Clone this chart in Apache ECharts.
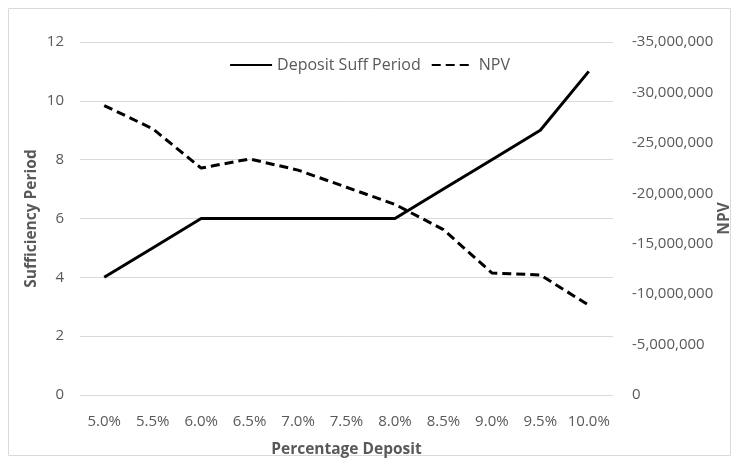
<!DOCTYPE html>
<html>
<head>
<meta charset="utf-8">
<script src="https://cdn.jsdelivr.net/npm/echarts@6/dist/echarts.min.js"></script>
<style>html,body{margin:0;padding:0;background:#fff}#c{width:739px;height:464px}</style>
</head>
<body>
<div id="c"></div>
<script>
const categories = ['5.0%','5.5%','6.0%','6.5%','7.0%','7.5%','8.0%','8.5%','9.0%','9.5%','10.0%'];
const sufficiency = [4,5,6,6,6,6,6,7,8,9,11];
const npv = [-28700000,-26400000,-22500000,-23400000,-22300000,-20600000,-18900000,-16400000,-12100000,-11900000,-8900000];
const FONT = '"Open Sans", "Liberation Sans", sans-serif';
const chart = echarts.init(document.getElementById('c'), null, {renderer:'canvas'});
chart.setOption({
  animation:false,
  backgroundColor:'#fff',
  textStyle:{fontFamily:FONT},
  graphic:[{type:'rect',shape:{x:8.5,y:8.5,width:722,height:447},style:{fill:'none',stroke:'#d9d9d9',lineWidth:1},silent:true}],
  legend:{
    top:52, left:'center', itemWidth:42, itemHeight:14, itemGap:10,
    itemStyle:{opacity:0},
    textStyle:{color:'#595959',fontSize:16,fontFamily:FONT},
    data:['Deposit Suff Period','NPV']
  },
  grid:{left:80,right:126,top:42,bottom:69,containLabel:false,outerBoundsMode:'none'},
  xAxis:{
    type:'category', data:categories, boundaryGap:true,
    name:'Percentage Deposit', nameLocation:'middle', nameGap:47, nameMoveOverlap:false,
    nameTextStyle:{color:'#595959',fontSize:15.5,fontWeight:'bold',fontFamily:FONT},
    axisLine:{show:false}, axisTick:{show:false},
    axisLabel:{color:'#595959',fontSize:15,margin:19,interval:0,fontFamily:FONT}
  },
  yAxis:[{
    type:'value', min:0, max:12, interval:2,
    name:'Sufficiency Period', nameLocation:'middle', nameGap:40, nameMoveOverlap:false,
    nameTextStyle:{color:'#595959',fontSize:15.5,fontWeight:'bold',fontFamily:FONT},
    axisLine:{show:false}, axisTick:{show:false},
    axisLabel:{color:'#595959',fontSize:15,margin:16,fontFamily:FONT},
    splitLine:{lineStyle:{color:'#d9d9d9',width:1}}
  },{
    type:'value', min:-35000000, max:0, interval:5000000, inverse:true,
    name:'NPV', nameLocation:'middle', nameGap:104, nameRotate:90, nameMoveOverlap:false,
    nameTextStyle:{color:'#595959',fontSize:15.5,fontWeight:'bold',fontFamily:FONT},
    axisLine:{show:false}, axisTick:{show:false},
    axisLabel:{color:'#595959',fontSize:15,margin:19,fontFamily:FONT,
      formatter:v=>v.toLocaleString('en-US')},
    splitLine:{show:false}
  }],
  series:[{
    name:'Deposit Suff Period', type:'line', yAxisIndex:0, data:sufficiency,
    symbol:'none', lineStyle:{color:'#000',width:3}, itemStyle:{color:'#000'}
  },{
    name:'NPV', type:'line', yAxisIndex:1, data:npv,
    symbol:'none', lineStyle:{color:'#000',width:3,type:[9,5]}, itemStyle:{color:'#000'}
  }]
});
</script>
</body>
</html>
